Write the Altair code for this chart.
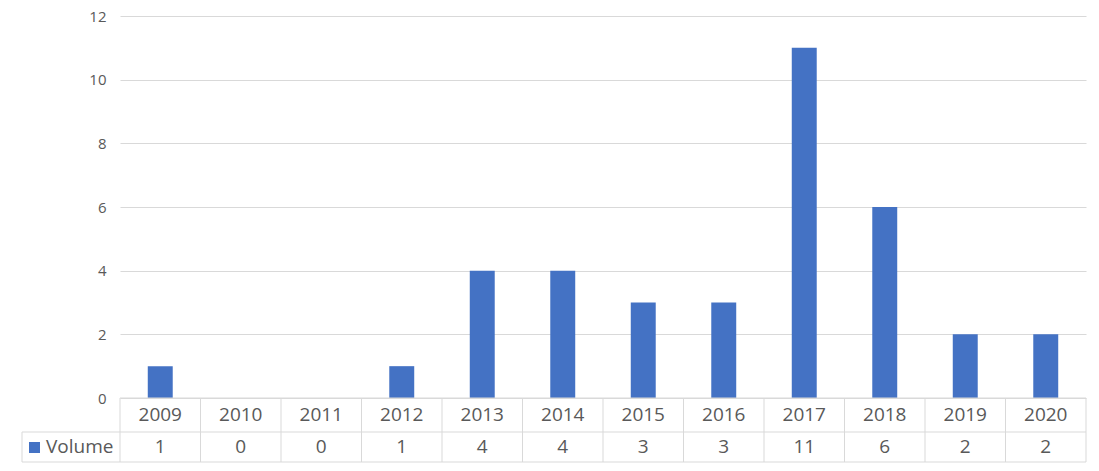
import altair as alt
import pandas as pd

years = ["2009", "2010", "2011", "2012", "2013", "2014", "2015", "2016", "2017", "2018", "2019", "2020"]
volume = [1, 0, 0, 1, 4, 4, 3, 3, 11, 6, 2, 2]
series_name = ["Volume"]
y_ticks = [0, 2, 4, 6, 8, 10, 12]

BLUE = "#4472C4"
GRID = "#d9d9d9"
TEXT = "#595959"
FONT = "Open Sans"
W, H = 966, 382
ROW1_Y = 399
ROW2_Y = 431
LINE_MID = 416
LINE_BOT = 446
LEFT_X = -98

df = pd.DataFrame({"year": years, "value": volume})
bounds = pd.DataFrame({"b": list(range(len(years) + 1))})
legend_df = pd.DataFrame({"name": series_name})

xband = alt.X("year:O", sort=years, axis=None,
              scale=alt.Scale(paddingInner=0.69, paddingOuter=0.345))

bars = alt.Chart(df).mark_bar(color=BLUE).encode(
    x=xband,
    y=alt.Y("value:Q", scale=alt.Scale(domain=[0, 12]),
            axis=alt.Axis(values=y_ticks, title=None, ticks=False, domain=False,
                          labelPadding=14, gridColor=GRID, labelColor=TEXT,
                          labelFont=FONT, labelFontSize=15)),
)

hdr = alt.Chart(df).mark_text(font=FONT, fontSize=19, color=TEXT, baseline="middle").encode(
    x=xband, y=alt.value(ROW1_Y), text="year:N")
vals = alt.Chart(df).mark_text(font=FONT, fontSize=19, color=TEXT, baseline="middle").encode(
    x=xband, y=alt.value(ROW2_Y), text="value:Q")

vrules = alt.Chart(bounds).mark_rule(color=GRID, strokeWidth=1).encode(
    x=alt.X("b:Q", scale=alt.Scale(domain=[0, len(years)], nice=False, zero=False), axis=None),
    y=alt.value(H), y2=alt.value(LINE_BOT))

left_rule = alt.Chart(legend_df).mark_rule(color=GRID, strokeWidth=1).encode(
    x=alt.value(LEFT_X), y=alt.value(LINE_MID), y2=alt.value(LINE_BOT))

hrule_bottom = alt.Chart(legend_df).mark_rule(color=GRID, strokeWidth=1).encode(
    x=alt.value(LEFT_X), x2=alt.value(W), y=alt.value(LINE_BOT))
hrule_mid = alt.Chart(legend_df).mark_rule(color=GRID, strokeWidth=1).encode(
    x=alt.value(LEFT_X), x2=alt.value(W), y=alt.value(LINE_MID))
hrule_top = alt.Chart(legend_df).mark_rule(color=GRID, strokeWidth=1).encode(
    x=alt.value(0), x2=alt.value(W), y=alt.value(H))

leg_sq = alt.Chart(legend_df).mark_square(color=BLUE, opacity=1, size=121).encode(
    x=alt.value(-85.5), y=alt.value(431.5))
leg_txt = alt.Chart(legend_df).mark_text(font=FONT, fontSize=19, color=TEXT, align="left",
                                          baseline="middle").encode(
    x=alt.value(-74), y=alt.value(ROW2_Y), text="name:N")

chart = alt.layer(
    bars, vrules, left_rule, hrule_top, hrule_mid, hrule_bottom, hdr, vals, leg_sq, leg_txt
).resolve_scale(x="independent").properties(
    width=W, height=H,
    autosize=alt.AutoSizeParams(type="none"),
    padding={"left": 112, "top": 8, "right": 5, "bottom": 70},
    background="white",
).configure_view(stroke=None)

chart.save("out.html", embed_options={"renderer": "svg", "actions": False})
